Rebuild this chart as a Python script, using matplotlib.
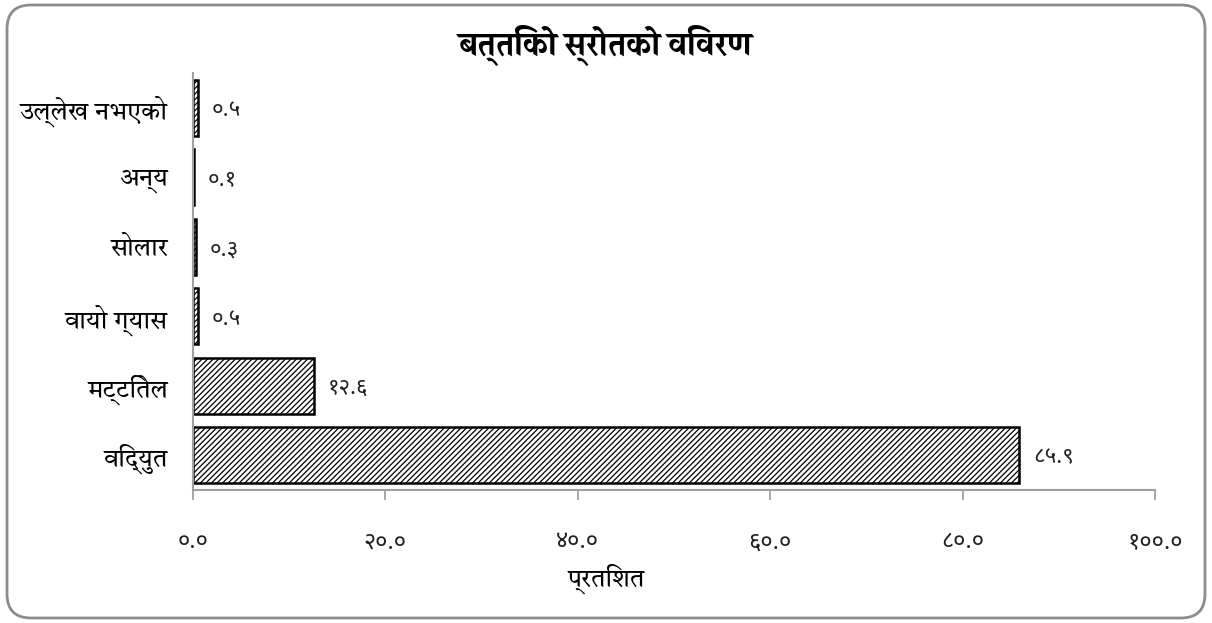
import matplotlib
matplotlib.use('Agg')
import matplotlib.pyplot as plt
from matplotlib.patches import FancyBboxPatch
from matplotlib.transforms import IdentityTransform

categories = ["विद्युत", "मट्टितेल", "वायो ग्यास", "सोलार", "अन्य", "उल्लेख नभएको"]
values = [85.9, 12.6, 0.5, 0.3, 0.1, 0.5]
value_labels = ["८५.९", "१२.६", "०.५", "०.३", "०.१", "०.५"]
xticks = [0, 20, 40, 60, 80, 100]
xtick_labels = ["०.०", "२०.०", "४०.०", "६०.०", "८०.०", "१००.०"]
title = "बत्तिको स्रोतको विवरण"
xlabel = "प्रतिशत"

LBL = ["Tiro Devanagari Hindi", "Noto Sans Devanagari", "DejaVu Sans"]
TTL = ["Halant", "Noto Sans Devanagari", "DejaVu Sans"]
NUM = ["Noto Sans Devanagari", "DejaVu Sans"]
plt.rcParams['hatch.linewidth'] = 0.9
plt.rcParams['font.family'] = LBL

W, H = 1212, 623
fig = plt.figure(figsize=(W / 100, H / 100), dpi=100)
ax = fig.add_axes([193 / W, 1 - 490 / H, (1155 - 193) / W, (490 - 73) / H])

ypos = list(range(len(categories)))
ax.barh(ypos, values, height=0.8, color='white', edgecolor='black',
        linewidth=1.8, hatch='//////')
ax.set_xlim(0, 100)
ax.set_ylim(-0.5, len(categories) - 0.5)
ax.set_yticks(ypos)
ax.set_yticklabels(categories, family=LBL, fontsize=18)
ax.tick_params(axis='y', length=0, pad=18)
ax.set_xticks(xticks)
ax.set_xticklabels(xtick_labels, family=NUM, fontsize=17, color='#222222')
ax.tick_params(axis='x', length=7, width=1.3, color='#a0a0a0', pad=22)

for s in ['top', 'right']:
    ax.spines[s].set_visible(False)
for s in ['left', 'bottom']:
    ax.spines[s].set_color('#a0a0a0')
    ax.spines[s].set_linewidth(1.5)

for y, v, t in zip(ypos, values, value_labels):
    ax.annotate(t, (v, y), xytext=(10, -2), textcoords='offset points',
                va='center', ha='left', family=NUM, fontsize=16, color='#222222')

fig.text(0.5, 1 - 45 / H, title, ha='center', va='center', family=TTL,
         fontsize=23, fontweight='bold')
fig.text(0.5, 1 - 579 / H, xlabel, ha='center', va='center', family=LBL,
         fontsize=18)

border = FancyBboxPatch((7, 5), W - 14, H - 10,
                        boxstyle="round,pad=0,rounding_size=24",
                        transform=IdentityTransform(), facecolor='none',
                        edgecolor='#8c8c8c', linewidth=2)
fig.patches.append(border)

fig.savefig('out.png', dpi=100)
